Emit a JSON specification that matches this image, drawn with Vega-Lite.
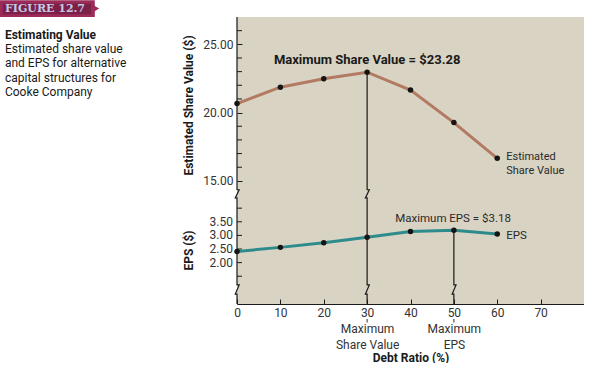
{
  "$schema": "https://vega.github.io/schema/vega-lite/v6.json",
  "padding": 0,
  "background": "white",
  "bounds": "flush",
  "spacing": 0,
  "config": {
    "view": {"stroke": null},
    "font": "Roboto",
    "axis": {"grid": false, "labelFont": "Roboto", "titleFont": "Roboto", "labelColor": "#333333", "titleColor": "#1a1a1a", "domainColor": "#1a1a1a", "tickColor": "#1a1a1a", "labelFontSize": 12, "titleFontSize": 12, "titleFontWeight": "bold", "labelOverlap": false}
  },
  "datasets": {
    "main": [
      {"debt": 0, "value": 20.66, "eps": 2.41},
      {"debt": 10, "value": 21.86, "eps": 2.56},
      {"debt": 20, "value": 22.48, "eps": 2.73},
      {"debt": 30, "value": 22.96, "eps": 2.93},
      {"debt": 40, "value": 21.65, "eps": 3.14},
      {"debt": 50, "value": 19.27, "eps": 3.19},
      {"debt": 60, "value": 16.65, "eps": 3.05}
    ],
    "topLines": [
      {"g": "axis", "o": 1, "x": 0, "y": 27},
      {"g": "axis", "o": 2, "x": 0, "y": 14.35},
      {"g": "axis", "o": 3, "x": 0.5, "y": 14.35},
      {"g": "axis", "o": 4, "x": -0.4, "y": 13.75},
      {"g": "axis", "o": 5, "x": 0, "y": 13.75},
      {"g": "axis", "o": 6, "x": 0, "y": 13.6},
      {"g": "v30", "o": 1, "x": 30, "y": 22.96},
      {"g": "v30", "o": 2, "x": 30, "y": 14.35},
      {"g": "v30", "o": 3, "x": 30.5, "y": 14.35},
      {"g": "v30", "o": 4, "x": 29.6, "y": 13.75},
      {"g": "v30", "o": 5, "x": 30, "y": 13.75},
      {"g": "v30", "o": 6, "x": 30, "y": 13.6}
    ],
    "botLines": [
      {"g": "axis", "o": 1, "x": 0, "y": 4.3},
      {"g": "axis", "o": 2, "x": 0, "y": 1.18},
      {"g": "axis", "o": 3, "x": 0.5, "y": 1.18},
      {"g": "axis", "o": 4, "x": -0.4, "y": 0.84},
      {"g": "axis", "o": 5, "x": 0, "y": 0.84},
      {"g": "axis", "o": 6, "x": 0, "y": 0.48},
      {"g": "v30", "o": 1, "x": 30, "y": 4.3},
      {"g": "v30", "o": 2, "x": 30, "y": 1.18},
      {"g": "v30", "o": 3, "x": 30.5, "y": 1.18},
      {"g": "v30", "o": 4, "x": 29.6, "y": 0.84},
      {"g": "v30", "o": 5, "x": 30, "y": 0.84},
      {"g": "v30", "o": 6, "x": 30, "y": 0.48},
      {"g": "v50", "o": 1, "x": 50, "y": 3.19},
      {"g": "v50", "o": 2, "x": 50, "y": 1.18},
      {"g": "v50", "o": 3, "x": 50.5, "y": 1.18},
      {"g": "v50", "o": 4, "x": 49.6, "y": 0.84},
      {"g": "v50", "o": 5, "x": 50, "y": 0.84},
      {"g": "v50", "o": 6, "x": 50, "y": 0.48}
    ],
    "minorTop": [{"v": 16}, {"v": 17}, {"v": 18}, {"v": 19}, {"v": 21}, {"v": 22}, {"v": 23}, {"v": 24}, {"v": 26}],
    "ticksBot": [{"v": 1.5}, {"v": 2}, {"v": 2.5}, {"v": 3}, {"v": 3.5}, {"v": 4}],
    "labelsBot": [{"v": 2, "t": "2.00"}, {"v": 2.5, "t": "2.50"}, {"v": 3, "t": "3.00"}, {"v": 3.5, "t": "3.50"}],
    "marks": [{"debt": 30}, {"debt": 50}],
    "side": [
      {"line": 1.25, "text": "Estimating Value", "w": "bold"},
      {"line": 2.25, "text": "Estimated share value", "w": "normal"},
      {"line": 3.25, "text": "and EPS for alternative", "w": "normal"},
      {"line": 4.25, "text": "capital structures for", "w": "normal"},
      {"line": 5.25, "text": "Cooke Company", "w": "normal"}
    ],
    "one": [{}]
  },
  "hconcat": [
    {
      "width": 237,
      "height": 100,
      "layer": [
        {
          "data": {"name": "one"},
          "mark": {"type": "rect", "color": "#9b2b59"},
          "encoding": {
            "x": {"datum": 0, "type": "quantitative", "scale": {"domain": [0, 237]}, "axis": null},
            "x2": {"datum": 96},
            "y": {"datum": -1.17, "type": "quantitative", "scale": {"domain": [0, 6.9], "reverse": true}, "axis": null},
            "y2": {"datum": 0}
          }
        },
        {
          "data": {"name": "one"},
          "mark": {"type": "rect", "color": "#7c2048"},
          "encoding": {
            "x": {"datum": 3, "type": "quantitative"},
            "x2": {"datum": 92},
            "y": {"datum": -0.95, "type": "quantitative"},
            "y2": {"datum": -0.2}
          }
        },
        {
          "data": {"name": "one"},
          "mark": {"type": "point", "shape": "triangle-right", "filled": true, "color": "#9b2b59", "size": 45, "opacity": 1},
          "encoding": {
            "x": {"datum": 97.5, "type": "quantitative"},
            "y": {"datum": -0.59, "type": "quantitative"}
          }
        },
        {
          "data": {"name": "one"},
          "mark": {"type": "text", "text": "FIGURE 12.7", "font": "DejaVu Serif", "fontWeight": "bold", "fontSize": 11, "color": "#c3c8e6", "align": "left", "baseline": "middle"},
          "encoding": {
            "x": {"datum": 5, "type": "quantitative"},
            "y": {"datum": -0.55, "type": "quantitative"}
          }
        },
        {
          "data": {"name": "side"},
          "transform": [{"filter": "datum.w == 'bold'"}],
          "mark": {"type": "text", "font": "Roboto", "fontWeight": "bold", "fontSize": 12, "color": "#1a1a1a", "align": "left", "baseline": "middle"},
          "encoding": {
            "x": {"datum": 5, "type": "quantitative"},
            "y": {"field": "line", "type": "quantitative"},
            "text": {"field": "text"}
          }
        },
        {
          "data": {"name": "side"},
          "transform": [{"filter": "datum.w != 'bold'"}],
          "mark": {"type": "text", "font": "Roboto", "fontSize": 12, "color": "#1a1a1a", "align": "left", "baseline": "middle"},
          "encoding": {
            "x": {"datum": 5, "type": "quantitative"},
            "y": {"field": "line", "type": "quantitative"},
            "text": {"field": "text"}
          }
        }
      ]
    },
    {
      "vconcat": [
        {
          "width": 347,
          "height": 183,
          "view": {"fill": "#d9d3c3"},
          "layer": [
            {
              "data": {"name": "topLines"},
              "mark": {"type": "line", "color": "#1a1a1a", "strokeWidth": 1.2},
              "encoding": {
                "x": {"field": "x", "type": "quantitative", "scale": {"domain": [0, 80], "nice": false, "zero": false}, "axis": null},
                "y": {"field": "y", "type": "quantitative", "scale": {"domain": [13.6, 27], "nice": false, "zero": false},
                  "axis": {"title": "Estimated Share Value ($)", "domain": false, "values": [15, 20, 25], "format": ".2f", "tickSize": -5, "labelPadding": 9, "labelOverlap": false,
                    "titleX": -49, "titleY": 88, "titleAngle": -90, "titleAlign": "center", "titleBaseline": "middle"}},
                "detail": {"field": "g"},
                "order": {"field": "o"}
              }
            },
            {
              "data": {"name": "minorTop"},
              "mark": {"type": "rule", "color": "#1a1a1a", "strokeWidth": 1},
              "encoding": {
                "x": {"datum": 0, "type": "quantitative"},
                "x2": {"datum": 1.15},
                "y": {"field": "v", "type": "quantitative"}
              }
            },
            {
              "data": {"name": "main"},
              "mark": {"type": "line", "color": "#b27a62", "strokeWidth": 3},
              "encoding": {
                "x": {"field": "debt", "type": "quantitative"},
                "y": {"field": "value", "type": "quantitative"}
              }
            },
            {
              "data": {"name": "main"},
              "mark": {"type": "point", "filled": true, "color": "#141414", "size": 30, "opacity": 1},
              "encoding": {
                "x": {"field": "debt", "type": "quantitative"},
                "y": {"field": "value", "type": "quantitative"}
              }
            },
            {
              "data": {"name": "main"},
              "transform": [{"filter": "datum.debt == 60"}],
              "mark": {"type": "text", "text": ["Estimated", "Share Value"], "align": "left", "baseline": "top", "dx": 9, "dy": -7, "fontSize": 11, "lineHeight": 14, "color": "#2a2a2a", "font": "Roboto"},
              "encoding": {
                "x": {"field": "debt", "type": "quantitative"},
                "y": {"field": "value", "type": "quantitative"}
              }
            },
            {
              "data": {"name": "one"},
              "mark": {"type": "text", "text": "Maximum Share Value = $23.28", "fontWeight": "bold", "fontSize": 13, "color": "#1a1a1a", "align": "center", "baseline": "middle"},
              "encoding": {
                "x": {"datum": 30, "type": "quantitative"},
                "y": {"datum": 23.82, "type": "quantitative"}
              }
            }
          ]
        },
        {
          "width": 347,
          "height": 104,
          "view": {"fill": "#d9d3c3"},
          "layer": [
            {
              "data": {"name": "botLines"},
              "mark": {"type": "line", "color": "#1a1a1a", "strokeWidth": 1.2},
              "encoding": {
                "x": {"field": "x", "type": "quantitative", "scale": {"domain": [0, 80], "nice": false, "zero": false},
                  "axis": {"title": "Debt Ratio (%)", "values": [0, 10, 20, 30, 40, 50, 60, 70], "tickSize": -5, "labelPadding": 8, "labelFlush": false, "domainWidth": 1.2, "labelOverlap": false,
                    "labelExpr": "datum.value == 30 ? ['30', 'Maximum', 'Share Value'] : datum.value == 50 ? ['50', 'Maximum', 'EPS'] : datum.label", "labelLineHeight": 16, "titlePadding": 2}},
                "y": {"field": "y", "type": "quantitative", "scale": {"domain": [0.48, 4.3], "nice": false, "zero": false},
                  "axis": {"title": "EPS ($)", "domain": false, "labels": false, "ticks": false,
                    "titleX": -49, "titleY": 50, "titleAngle": -90, "titleAlign": "center", "titleBaseline": "middle"}},
                "detail": {"field": "g"},
                "order": {"field": "o"}
              }
            },
            {
              "data": {"name": "ticksBot"},
              "mark": {"type": "rule", "color": "#1a1a1a", "strokeWidth": 1},
              "encoding": {
                "x": {"datum": 0, "type": "quantitative"},
                "x2": {"datum": 1.15},
                "y": {"field": "v", "type": "quantitative"}
              }
            },
            {
              "data": {"name": "labelsBot"},
              "mark": {"type": "text", "align": "right", "baseline": "middle", "dx": -4, "fontSize": 12, "color": "#333333", "font": "Roboto"},
              "encoding": {
                "x": {"datum": 0, "type": "quantitative"},
                "y": {"field": "v", "type": "quantitative"},
                "text": {"field": "t"}
              }
            },
            {
              "data": {"name": "marks"},
              "mark": {"type": "rule", "color": "#333333", "strokeWidth": 1},
              "encoding": {
                "x": {"field": "debt", "type": "quantitative"},
                "y": {"datum": -0.07, "type": "quantitative"},
                "y2": {"datum": -0.2}
              }
            },
            {
              "data": {"name": "main"},
              "mark": {"type": "line", "color": "#2e8b8c", "strokeWidth": 3},
              "encoding": {
                "x": {"field": "debt", "type": "quantitative"},
                "y": {"field": "eps", "type": "quantitative"}
              }
            },
            {
              "data": {"name": "main"},
              "mark": {"type": "point", "filled": true, "color": "#141414", "size": 30, "opacity": 1},
              "encoding": {
                "x": {"field": "debt", "type": "quantitative"},
                "y": {"field": "eps", "type": "quantitative"}
              }
            },
            {
              "data": {"name": "main"},
              "transform": [{"filter": "datum.debt == 60"}],
              "mark": {"type": "text", "text": "EPS", "align": "left", "baseline": "middle", "dx": 9, "dy": 2, "fontSize": 11.5, "color": "#2a2a2a", "font": "Roboto"},
              "encoding": {
                "x": {"field": "debt", "type": "quantitative"},
                "y": {"field": "eps", "type": "quantitative"}
              }
            },
            {
              "data": {"name": "one"},
              "mark": {"type": "text", "text": "Maximum EPS = $3.18", "fontSize": 11.5, "color": "#2a2a2a", "align": "center", "baseline": "middle", "font": "Roboto"},
              "encoding": {
                "x": {"datum": 49.8, "type": "quantitative"},
                "y": {"datum": 3.61, "type": "quantitative"}
              }
            }
          ]
        }
      ],
      "spacing": 0,
      "bounds": "flush"
    }
  ]
}
